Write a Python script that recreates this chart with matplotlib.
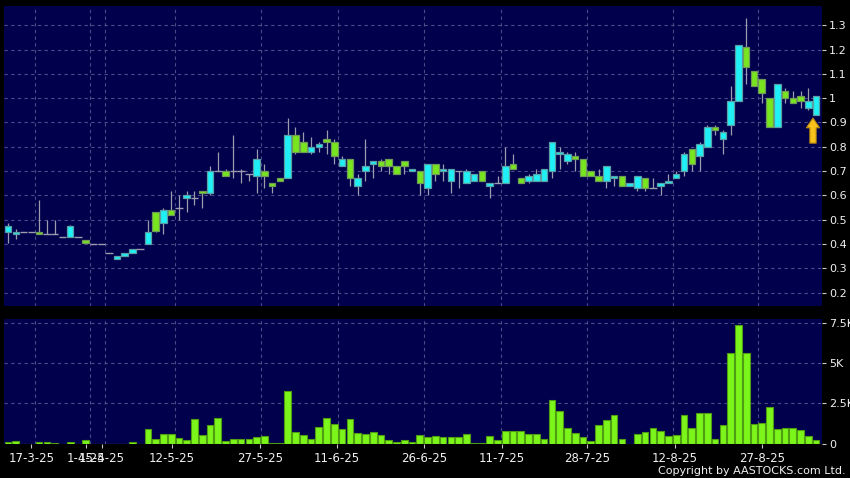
import numpy as np
import matplotlib.pyplot as plt
from matplotlib.ticker import FuncFormatter

# daily candles, one per trading day shown (17-3-25 .. early 9-25)
opens = [0.45, 0.44, 0.45, 0.45, 0.45, 0.44, 0.44, 0.43, 0.43, 0.43,
         0.415, 0.40, 0.40, 0.365, 0.34, 0.35, 0.365, 0.38, 0.40, 0.53,
         0.485, 0.54, 0.55, 0.59, 0.59, 0.62, 0.61, 0.70, 0.70, 0.70,
         0.70, 0.69, 0.68, 0.70, 0.65, 0.67, 0.67, 0.85, 0.82, 0.78,
         0.80, 0.83, 0.82, 0.72, 0.75, 0.64, 0.70, 0.73, 0.74, 0.75,
         0.72, 0.74, 0.70, 0.70, 0.63, 0.73, 0.70, 0.66, 0.70, 0.65,
         0.66, 0.70, 0.64, 0.65, 0.65, 0.73, 0.67, 0.66, 0.66, 0.66,
         0.70, 0.77, 0.74, 0.76, 0.75, 0.70, 0.68, 0.66, 0.67, 0.68,
         0.64, 0.63, 0.67, 0.63, 0.64, 0.65, 0.67, 0.70, 0.79, 0.76,
         0.80, 0.88, 0.83, 0.89, 0.99, 1.21, 1.11, 1.08, 1.00, 0.88,
         1.03, 1.00, 1.01, 0.96, 0.93]
highs = [0.485, 0.46, 0.45, 0.45, 0.58, 0.50, 0.50, 0.43, 0.48, 0.43,
         0.415, 0.40, 0.40, 0.365, 0.35, 0.365, 0.38, 0.38, 0.50, 0.53,
         0.55, 0.62, 0.60, 0.62, 0.62, 0.62, 0.72, 0.78, 0.71, 0.85,
         0.71, 0.69, 0.79, 0.73, 0.65, 0.67, 0.92, 0.88, 0.86, 0.84,
         0.82, 0.87, 0.83, 0.76, 0.75, 0.69, 0.83, 0.74, 0.75, 0.75,
         0.72, 0.74, 0.71, 0.70, 0.73, 0.73, 0.73, 0.71, 0.70, 0.71,
         0.69, 0.70, 0.65, 0.68, 0.80, 0.77, 0.67, 0.69, 0.71, 0.71,
         0.82, 0.80, 0.78, 0.78, 0.75, 0.70, 0.71, 0.72, 0.68, 0.68,
         0.65, 0.68, 0.67, 0.67, 0.65, 0.69, 0.70, 0.78, 0.79, 0.82,
         0.89, 0.89, 0.87, 1.05, 1.22, 1.33, 1.11, 1.08, 1.00, 1.06,
         1.04, 1.03, 1.03, 1.04, 1.01]
lows = [0.405, 0.42, 0.45, 0.45, 0.44, 0.44, 0.44, 0.43, 0.43, 0.43,
        0.405, 0.40, 0.40, 0.365, 0.34, 0.35, 0.365, 0.38, 0.40, 0.45,
        0.44, 0.52, 0.50, 0.53, 0.56, 0.55, 0.60, 0.70, 0.68, 0.67,
        0.65, 0.66, 0.61, 0.63, 0.61, 0.66, 0.67, 0.77, 0.78, 0.77,
        0.78, 0.77, 0.73, 0.72, 0.64, 0.60, 0.66, 0.67, 0.70, 0.69,
        0.69, 0.69, 0.70, 0.60, 0.60, 0.66, 0.66, 0.61, 0.63, 0.65,
        0.66, 0.66, 0.59, 0.65, 0.65, 0.71, 0.65, 0.65, 0.66, 0.66,
        0.67, 0.71, 0.73, 0.70, 0.68, 0.68, 0.66, 0.63, 0.64, 0.64,
        0.64, 0.62, 0.62, 0.63, 0.60, 0.65, 0.67, 0.68, 0.70, 0.70,
        0.80, 0.85, 0.77, 0.85, 0.99, 1.06, 1.05, 0.98, 0.88, 0.88,
        0.98, 0.98, 0.96, 0.95, 0.93]
closes = [0.475, 0.45, 0.45, 0.45, 0.44, 0.44, 0.44, 0.43, 0.475, 0.43,
          0.405, 0.40, 0.40, 0.365, 0.35, 0.365, 0.38, 0.38, 0.45, 0.455,
          0.54, 0.52, 0.55, 0.60, 0.59, 0.61, 0.70, 0.70, 0.68, 0.70,
          0.70, 0.69, 0.75, 0.68, 0.64, 0.66, 0.85, 0.78, 0.78, 0.80,
          0.81, 0.82, 0.76, 0.75, 0.67, 0.67, 0.72, 0.74, 0.72, 0.72,
          0.69, 0.72, 0.71, 0.65, 0.73, 0.69, 0.71, 0.71, 0.70, 0.70,
          0.69, 0.66, 0.65, 0.65, 0.72, 0.71, 0.65, 0.68, 0.69, 0.71,
          0.82, 0.78, 0.77, 0.75, 0.68, 0.68, 0.66, 0.72, 0.68, 0.64,
          0.65, 0.68, 0.63, 0.63, 0.65, 0.66, 0.69, 0.77, 0.73, 0.81,
          0.88, 0.87, 0.86, 0.99, 1.22, 1.13, 1.05, 1.02, 0.88, 1.06,
          1.00, 0.98, 0.99, 0.99, 1.01]
volumes = [80, 170, 0, 0, 120, 80, 60, 0, 120, 0,
           200, 0, 0, 0, 0, 0, 80, 0, 900, 290,
           600, 580, 350, 230, 1500, 520, 1150, 1580, 150, 290,
           310, 270, 420, 440, 60, 60, 3270, 710, 520, 290,
           1020, 1600, 1210, 920, 1500, 650, 580, 690, 560, 210,
           80, 210, 80, 560, 420, 460, 400, 400, 420, 620,
           60, 30, 460, 210, 750, 770, 770, 580, 580, 250,
           2710, 2020, 940, 670, 420, 150, 1170, 1460, 1770, 270,
           0, 580, 690, 960, 750, 460, 560, 1790, 980, 1900,
           1900, 250, 1170, 5650, 7370, 5650, 1190, 1310, 2290, 900,
           980, 960, 870, 460, 190]

date_labels = ['17-3-25', '1-4-25', '15-4-25', '12-5-25', '27-5-25', '11-6-25',
               '26-6-25', '11-7-25', '28-7-25', '12-8-25', '27-8-25']
date_pos = [3.0, 10.1, 12.1, 21.1, 32.4, 42.35, 53.55, 63.6, 74.55, 85.8, 97.0]
grid_pos = [3.5, 10.5, 12.5, 21.5, 32.5, 42.5, 53.5, 63.5, 74.5, 85.6, 96.5]

o = np.array(opens)
h = np.array(highs)
l = np.array(lows)
c = np.array(closes)
v = np.array(volumes)
x = np.arange(len(o))

navy = '#00004c'
gridc = '#4b4b8a'
cyan = '#1ff0f5'
green = '#78e61e'
wick = '#9c9cae'
txt = '#f0f0f0'

fig = plt.figure(figsize=(8.5, 4.78), dpi=100, facecolor='black')
ax1 = fig.add_axes([4/850, 1-306/478, 818/850, 300/478], facecolor=navy)
ax2 = fig.add_axes([4/850, 1-443.5/478, 818/850, 124.5/478], facecolor=navy)

for ax in (ax1, ax2):
    for s in ax.spines.values():
        s.set_visible(False)
    ax.set_xlim(-0.515, 104.76)
    ax.yaxis.tick_right()
    ax.set_xticks(grid_pos, minor=True)
    ax.grid(True, which='minor', axis='x', color=gridc, ls=(0, (3, 3)), lw=0.8)
    ax.grid(True, which='major', axis='y', color=gridc, ls=(0, (3, 3)), lw=0.8)
    ax.grid(False, which='major', axis='x')
    ax.tick_params(axis='y', colors='#c8c8c8', labelcolor=txt, length=3,
                   width=0.8, labelsize=8, pad=2)
    ax.tick_params(axis='x', which='minor', length=0)
    ax.set_axisbelow(True)

# price panel: cyan = up day, green = down day, grey dash = unchanged
up = c > o + 1e-9
dn = c < o - 1e-9
flat = ~(up | dn)
ax1.vlines(x, l, h, color=wick, lw=0.9, zorder=2)
ax1.bar(x[up], (c - o)[up], bottom=o[up], width=0.84, color=cyan,
        edgecolor='#5a9ea6', lw=0.9, zorder=3)
ax1.bar(x[dn], (o - c)[dn], bottom=c[dn], width=0.84, color=green,
        edgecolor='#6f9a58', lw=0.9, zorder=3)
ax1.hlines(o[flat], x[flat] - 0.48, x[flat] + 0.48, color=wick, lw=1.0, zorder=3)

ax1.set_ylim(0.145, 1.379)
ax1.set_yticks(np.round(np.arange(0.2, 1.31, 0.1), 1))
ax1.yaxis.set_major_formatter(FuncFormatter(lambda val, p: '%g' % val))
ax1.set_xticks(date_pos)
ax1.tick_params(axis='x', which='major', length=0, labelbottom=False)

# latest-day arrow
ax1.annotate('', xy=(103.6, 0.918), xytext=(103.6, 0.815),
             arrowprops=dict(arrowstyle='simple,head_length=0.7,head_width=0.95,tail_width=0.45',
                             fc='#f8c21a', ec='#b98a10', lw=0.8, shrinkA=0, shrinkB=0),
             zorder=5)

# volume panel
ax2.bar(x, v, width=0.86, color='#7cf51a', edgecolor='#4f9e12', lw=0.8, zorder=3)
ax2.set_ylim(0, 7770)
ax2.set_yticks([0, 2500, 5000, 7500])
ax2.set_yticklabels(['0', '2.5K', '5K', '7.5K'])
ax2.set_xticks(date_pos)
ax2.set_xticklabels(date_labels)
ax2.tick_params(axis='x', which='major', colors='#c8c8c8', labelcolor=txt,
                length=3, width=0.8, labelsize=8.5, pad=3)

fig.text(846/850, 1-471.5/478, 'Copyright by AASTOCKS.com Ltd.', ha='right',
         va='center', color=txt, fontsize=8)

fig.savefig('out.png', dpi=100, facecolor='black')
